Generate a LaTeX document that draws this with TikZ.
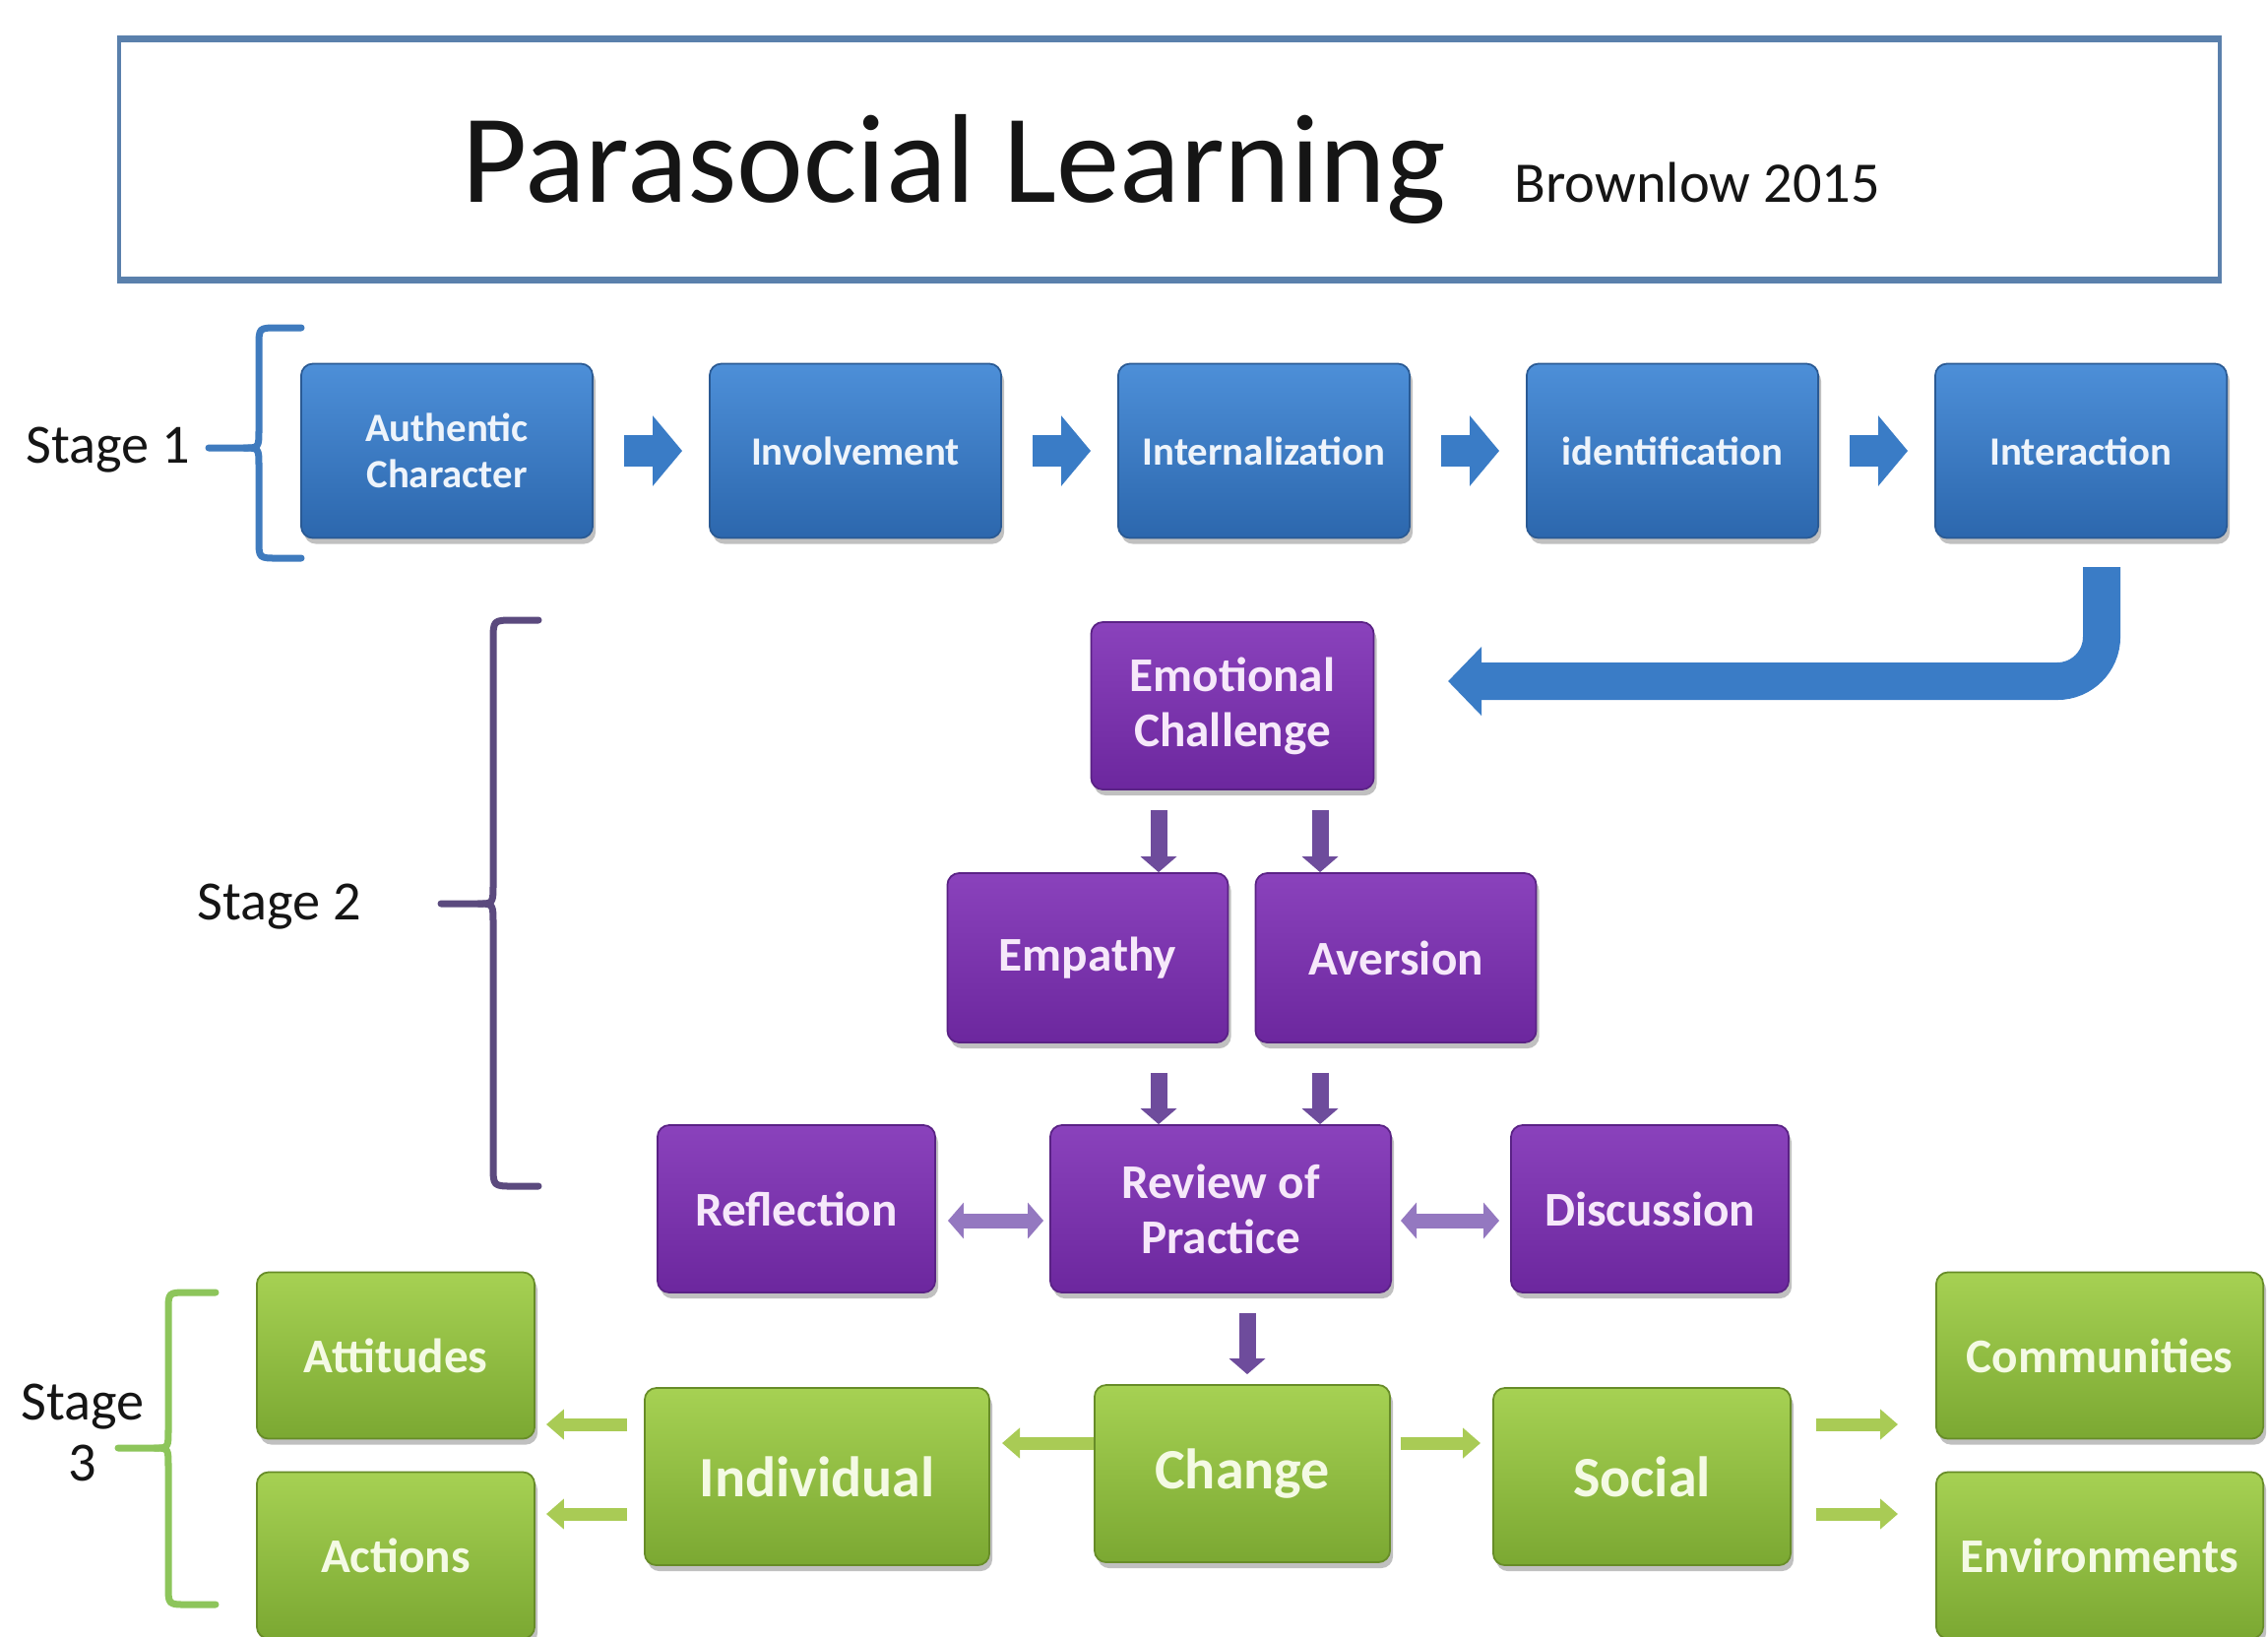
\documentclass[tikz,border=0pt]{standalone}
\usepackage{fontspec}
\setmainfont{Carlito}
\usetikzlibrary{arrows.meta,shadows,calc}

\definecolor{bluetop}{HTML}{4D8FD8}
\definecolor{bluebot}{HTML}{2C67AD}
\definecolor{blueedge}{HTML}{2A5A94}
\definecolor{bluetxt}{HTML}{EEF4FB}
\definecolor{blueArr}{HTML}{3A7CC6}
\definecolor{purtop}{HTML}{8A42BC}
\definecolor{purbot}{HTML}{6C279E}
\definecolor{puredge}{HTML}{5A2285}
\definecolor{purtxt}{HTML}{F6E8FA}
\definecolor{purArr}{HTML}{6E4C9C}
\definecolor{purDbl}{HTML}{9478C0}
\definecolor{grntop}{HTML}{A6D153}
\definecolor{grnbot}{HTML}{7BA832}
\definecolor{grnedge}{HTML}{678C28}
\definecolor{grntxt}{HTML}{F4FAE4}
\definecolor{grnArr}{HTML}{A9CB55}
\definecolor{titleblue}{HTML}{5A80AC}
\definecolor{brA}{HTML}{3F7BBE}
\definecolor{brB}{HTML}{5B4A7E}
\definecolor{brC}{HTML}{8DC55B}
\definecolor{ink}{HTML}{151515}

\begin{document}
\begin{tikzpicture}[x=0.01cm,y=-0.01cm,
  diabox/.style={rounded corners=0.12cm, inner sep=0pt, align=center, line width=0.5pt,
    drop shadow={shadow xshift=0.03cm, shadow yshift=-0.06cm, opacity=0.35, fill=black!70}},
  bluebox/.style={diabox, top color=bluetop, bottom color=bluebot, draw=blueedge, text=bluetxt,
    minimum width=2.96cm, minimum height=1.77cm, font=\bfseries\fontsize{11.6}{13.4}\selectfont},
  purbox/.style={diabox, top color=purtop, bottom color=purbot, draw=puredge, text=purtxt,
    minimum height=1.70cm, font=\bfseries\fontsize{14}{16}\selectfont},
  grnbox/.style={diabox, top color=grntop, bottom color=grnbot, draw=grnedge, text=grntxt,
    minimum height=1.69cm, font=\bfseries\fontsize{14}{16}\selectfont},
  grnbig/.style={grnbox, minimum height=1.80cm, font=\bfseries\fontsize{16.5}{19}\selectfont},
  stagelbl/.style={inner sep=0pt, text=ink, align=center, font=\fontsize{16}{17.6}\selectfont},
  blockarr/.style={draw=blueArr, line width=0.32cm, -{Triangle[width=0.70cm,length=0.30cm]},
    shorten <=0.31cm, shorten >=0.27cm},
  uarr/.style={draw=blueArr, line width=0.38cm, -{Triangle[width=0.68cm,length=0.34cm]},
    rounded corners=0.45cm},
  pdown/.style={draw=purArr, line width=0.17cm, -{Triangle[width=0.36cm,length=0.16cm]}},
  pdbl/.style={draw=purDbl, line width=0.15cm,
    {Triangle[width=0.36cm,length=0.16cm]}-{Triangle[width=0.36cm,length=0.16cm]}},
  garr/.style={draw=grnArr, line width=0.13cm, -{Triangle[width=0.30cm,length=0.18cm]}},
  bracketline/.style={line width=0.07cm, line cap=round, line join=round}
]
\fill[white] (0,0) rectangle (2304,1662);
\useasboundingbox (0,0) rectangle (2304,1662);

% title
\node[draw=titleblue, line width=0.035cm, minimum width=21.33cm, minimum height=2.41cm, inner sep=0pt] (tbox) at (1188,162) {};
\draw[titleblue, line width=0.07cm] (tbox.north west) -- (tbox.north east);
\draw[titleblue, line width=0.07cm] (tbox.south west) -- (tbox.south east);
\node[anchor=base west, inner sep=0pt, text=ink, font=\fontsize{36.5}{40}\selectfont] (title) at (469,205) {Parasocial Learning};
\node[anchor=base west, inner sep=0pt, text=ink, font=\fontsize{16.6}{20}\selectfont] (author) at (1538,205) {Brownlow 2015};

% stage 1
\node[bluebox] (auth) at (454,458) {Authentic\\Character};
\node[bluebox] (inv) at (869,458) {Involvement};
\node[bluebox] (intz) at (1284,458) {Internalization};
\node[bluebox] (iden) at (1699,458) {identification};
\node[bluebox] (inter) at (2114,458) {Interaction};

% stage 2
\node[purbox, minimum width=2.87cm] (emo) at (1252,717) {Emotional\\Challenge};
\node[purbox, minimum width=2.85cm, minimum height=1.72cm] (emp) at (1105,973) {Empathy};
\node[purbox, minimum width=2.85cm, minimum height=1.72cm] (ave) at (1418,973) {Aversion};
\node[purbox, minimum width=2.82cm] (refl) at (809,1228) {Reflection};
\node[purbox, minimum width=3.46cm] (rev) at (1240,1228) {Review of\\Practice};
\node[purbox, minimum width=2.82cm] (disc) at (1676,1228) {Discussion};

% stage 3
\node[grnbox, minimum width=2.82cm] (att) at (402,1377) {Attitudes};
\node[grnbox, minimum width=2.82cm] (act) at (402,1580) {Actions};
\node[grnbig, minimum width=3.50cm] (ind) at (830,1500) {Individual};
\node[grnbig, minimum width=3.00cm] (chg) at (1262,1497) {Change};
\node[grnbig, minimum width=3.02cm] (soc) at (1668,1500) {Social};
\node[grnbox, minimum width=3.32cm] (com) at (2133,1377) {Communities};
\node[grnbox, minimum width=3.32cm] (env) at (2133,1580) {Environments};

% stage labels
\node[stagelbl] (s1) at (110,457) {Stage 1};
\node[stagelbl] (s2) at (284,921) {Stage 2};
\node[stagelbl] (s3) at (84,1455) {Stage\\3};

% brackets (curly-brace like)
\draw[bracketline, brA] (306,333) -- (282,333) .. controls (263,333) .. (263,352)
  -- (263,436) .. controls (263,455) .. (248,455) -- (212,455);
\draw[bracketline, brA] (248,455) .. controls (263,455) .. (263,474)
  -- (263,548) .. controls (263,567) .. (282,567) -- (306,567);
\draw[bracketline, brB] (547,630) -- (522,630) .. controls (501,630) .. (501,651)
  -- (501,897) .. controls (501,918) .. (486,918) -- (448,918);
\draw[bracketline, brB] (486,918) .. controls (501,918) .. (501,939)
  -- (501,1184) .. controls (501,1205) .. (522,1205) -- (547,1205);
\draw[bracketline, brC] (219,1313) -- (190,1313) .. controls (171,1313) .. (171,1332)
  -- (171,1452) .. controls (171,1471) .. (157,1471) -- (120,1471);
\draw[bracketline, brC] (157,1471) .. controls (171,1471) .. (171,1490)
  -- (171,1611) .. controls (171,1630) .. (190,1630) -- (219,1630);

% stage 1 arrows
\draw[blockarr] (auth.east) -- (inv.west);
\draw[blockarr] (inv.east) -- (intz.west);
\draw[blockarr] (intz.east) -- (iden.west);
\draw[blockarr] (iden.east) -- (inter.west);

% U-turn arrow
\coordinate (uTop) at (2135,576);
\coordinate (uEnd) at (1471,692);
\draw[uarr] (uTop) |- (uEnd);

% purple arrows
\coordinate (pl) at (1177,0);
\coordinate (pr) at (1341,0);
\coordinate (pc) at (1267,0);
\draw[pdown, shorten <=0.2cm] (emo.south -| pl) -- (emp.north -| pl);
\draw[pdown, shorten <=0.2cm] (emo.south -| pr) -- (ave.north -| pr);
\draw[pdown, shorten <=0.3cm] (emp.south -| pl) -- (rev.north -| pl);
\draw[pdown, shorten <=0.3cm] (ave.south -| pr) -- (rev.north -| pr);
\draw[pdown, shorten <=0.2cm, shorten >=0.1cm] (rev.south -| pc) -- (chg.north -| pc);

\coordinate (dy) at (0,1240);
\draw[pdbl, shorten <=0.12cm, shorten >=0.06cm] (refl.east |- dy) -- (rev.west |- dy);
\draw[pdbl, shorten <=0.09cm, shorten >=0.11cm] (rev.east |- dy) -- (disc.west |- dy);

% green arrows
\coordinate (gyA) at (0,1447);
\coordinate (gyB) at (0,1538);
\coordinate (gyC) at (0,1466);
\draw[garr, shorten <=0.17cm, shorten >=0.11cm] (ind.west |- gyA) -- (att.east |- gyA);
\draw[garr, shorten <=0.17cm, shorten >=0.11cm] (ind.west |- gyB) -- (act.east |- gyB);
\draw[garr, shorten >=0.12cm] (chg.west |- gyC) -- (ind.east |- gyC);
\draw[garr, shorten <=0.1cm, shorten >=0.12cm] (chg.east |- gyC) -- (soc.west |- gyC);
\draw[garr, shorten <=0.25cm, shorten >=0.38cm] (soc.east |- gyA) -- (com.west |- gyA);
\draw[garr, shorten <=0.25cm, shorten >=0.38cm] (soc.east |- gyB) -- (env.west |- gyB);
\end{tikzpicture}
\end{document}
